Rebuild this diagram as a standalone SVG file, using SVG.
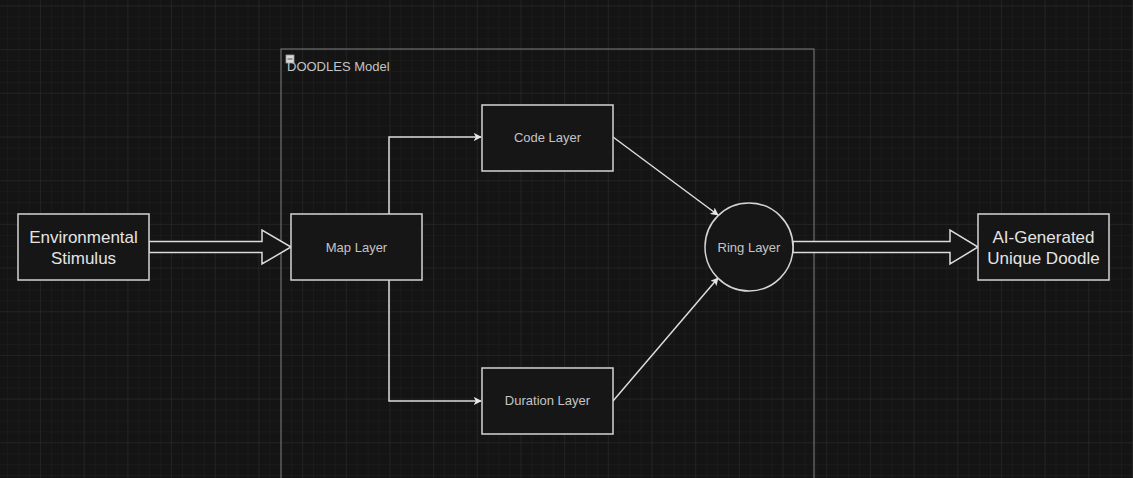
<svg xmlns="http://www.w3.org/2000/svg" width="1133" height="478" viewBox="0 0 1133 478">
  <defs>
    <pattern id="minor" patternUnits="userSpaceOnUse" x="40" y="5.5" width="10.92" height="10.92">
      <path d="M0 0H10.92M0 0V10.92" fill="none" stroke="#1f1f1f" stroke-width="1"/>
    </pattern>
    <pattern id="major" patternUnits="userSpaceOnUse" x="40" y="5.5" width="43.68" height="43.68">
      <path d="M0 0H43.68M0 0V43.68" fill="none" stroke="#2a2a2a" stroke-width="1"/>
    </pattern>
    <marker id="arr" viewBox="0 0 10 10" refX="9" refY="5" markerWidth="8" markerHeight="8" markerUnits="userSpaceOnUse" orient="auto">
      <path d="M0 0L10 5L0 10L2.5 5Z" fill="#e6e6e6"/>
    </marker>
    <style>
      .node { fill: #161616; stroke: #d4d4d4; stroke-width: 1.5; }
      .big { font-family: "Liberation Sans", Arial, sans-serif; font-size: 17px; fill: #e4e4e4; text-anchor: middle; }
      .small { font-family: "Liberation Sans", Arial, sans-serif; font-size: 13px; fill: #c4c4c4; text-anchor: middle; }
      .conn { fill: none; stroke: #dcdcdc; stroke-width: 1.5; }
      .hollow { fill: #161616; stroke: #dcdcdc; stroke-width: 1.5; stroke-linejoin: miter; }
    </style>
  </defs>

  <rect width="1133" height="478" fill="#141414"/>
  <rect width="1133" height="478" fill="url(#minor)"/>
  <rect width="1133" height="478" fill="url(#major)"/>

  <g id="container">
    <rect x="281" y="49" width="533" height="440" fill="none" stroke="#6e6e6e" stroke-width="1.2"/>
    <rect x="286" y="55" width="8" height="8" fill="#d8d8d8" stroke="#9a9a9a" stroke-width="0.8"/>
    <line x1="287.5" y1="59" x2="292.5" y2="59" stroke="#555" stroke-width="1"/>
    <text x="287" y="71" font-family="'Liberation Sans', Arial, sans-serif" font-size="13" fill="#c4c4c4">DOODLES Model</text>
  </g>

  <g id="connectors">
    <path class="hollow" d="M149 241.5H262V230L291 247L262 264V252.5H149Z"/>
    <path class="hollow" d="M793 241.5H950V230L978 247L950 264V252.5H793Z"/>
    <path class="conn" d="M389 214V137H481" marker-end="url(#arr)"/>
    <path class="conn" d="M389 280V401H481" marker-end="url(#arr)"/>
    <path class="conn" d="M613 137L718 215" marker-end="url(#arr)"/>
    <path class="conn" d="M613 401L718 278" marker-end="url(#arr)"/>
  </g>

  <g id="env">
    <rect class="node" x="18" y="214" width="131" height="66"/>
    <text class="big" x="83.5" y="243">Environmental</text>
    <text class="big" x="83.5" y="264">Stimulus</text>
  </g>

  <g id="map">
    <rect class="node" x="291" y="214" width="131" height="66"/>
    <text class="small" x="356.5" y="251.5">Map Layer</text>
  </g>

  <g id="code">
    <rect class="node" x="482" y="105" width="131" height="66"/>
    <text class="small" x="547.5" y="142">Code Layer</text>
  </g>

  <g id="duration">
    <rect class="node" x="482" y="368" width="131" height="66"/>
    <text class="small" x="547.5" y="405">Duration Layer</text>
  </g>

  <g id="ring">
    <circle class="node" cx="749" cy="247" r="44"/>
    <text class="small" x="749" y="251.5">Ring Layer</text>
  </g>

  <g id="output">
    <rect class="node" x="978" y="214" width="131" height="66"/>
    <text class="big" x="1043.5" y="243">AI-Generated</text>
    <text class="big" x="1043.5" y="264">Unique Doodle</text>
  </g>
</svg>
